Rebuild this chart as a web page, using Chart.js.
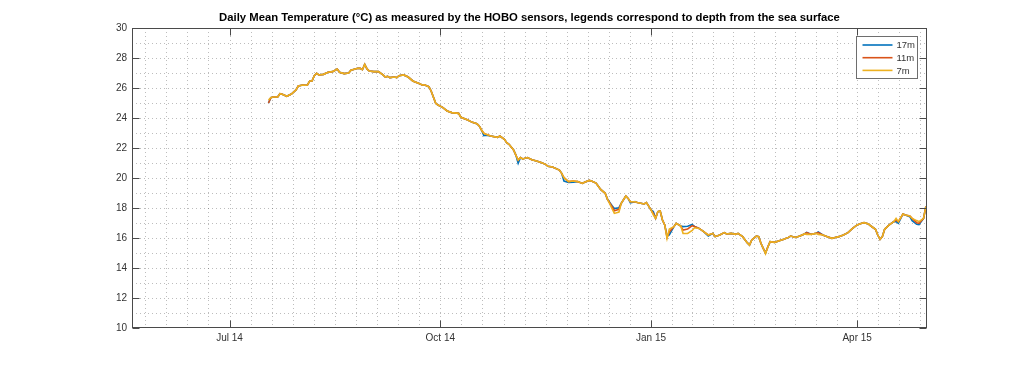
<!DOCTYPE html>
<html>
<head>
<meta charset="utf-8">
<script src="https://cdn.jsdelivr.net/npm/chart.js@4.4.1/dist/chart.umd.min.js"></script>
<style>
  html, body { margin: 0; padding: 0; background: #ffffff; }
  #wrap { width: 1024px; height: 368px; }
</style>
</head>
<body>
<div id="wrap"><canvas id="c" width="1024" height="368"></canvas></div>
<script>
// ---- Data (days counted from 1 Jul 2014) ----
const titleText = 'Daily Mean Temperature (\u00B0C) as measured by the HOBO sensors, legends correspond to depth from the sea surface';
const seriesNames = ['17m', '11m', '7m'];
const seriesColors = ['#0072BD', '#D95319', '#EDB120'];
const tickDays = [0, 92, 184, 274];
const tickLabels = ['Jul 14', 'Oct 14', 'Jan 15', 'Apr 15'];
const xMin = -42.6, xMax = 304.5;
const yMin = 10, yMax = 30, yStep = 2;

const days = [17,18,19,21,22,23,25,27,29,30,32,33,34,35,36,37,38,39,41,43,45,47,48,50,52,53,56,57,58,59,60,61,63,65,67,68,69,70,72,73,74,76,78,80,83,84,85,87,88,90,91,93,95,97,100,101,104,106,108,109,110,111,112,114,117,118,120,121,122,124,125,126,127,128,130,132,134,136,138,139,141,144,145,146,148,150,152,154,155,157,158,160,161,162,164,165,167,168,170,171,173,174,175,177,178,181,182,183,184,185,186,187,188,189,190,191,192,194,195,197,198,200,202,203,205,207,209,211,212,214,216,217,219,221,222,224,226,227,228,230,231,232,233,234,235,236,238,240,242,244,245,247,249,251,252,254,256,257,259,261,263,264,266,268,270,272,274,276,277,279,280,282,283,284,285,286,288,290,291,292,294,295,297,298,300,301,303,304];

const t11 = [25.0,25.35,25.4,25.4,25.62,25.58,25.45,25.6,25.87,26.13,26.2,26.18,26.2,26.47,26.47,26.82,26.98,26.87,26.91,27.05,27.09,27.27,27.05,26.96,27.0,27.18,27.31,27.31,27.22,27.58,27.27,27.13,27.09,27.09,26.87,26.73,26.78,26.69,26.73,26.69,26.82,26.87,26.73,26.47,26.29,26.2,26.22,26.09,25.8,24.98,24.87,24.71,24.47,24.36,24.31,24.05,23.87,23.71,23.62,23.47,23.2,22.98,22.91,22.8,22.71,22.8,22.58,22.36,22.25,21.87,21.53,21.2,21.36,21.27,21.36,21.22,21.13,21.04,20.91,20.78,20.73,20.53,20.31,20.02,19.76,19.8,19.76,19.64,19.71,19.84,19.8,19.66,19.45,19.24,18.98,18.58,18.09,17.82,17.91,18.31,18.8,18.64,18.42,18.42,18.36,18.27,18.36,18.13,17.87,17.64,17.31,17.76,17.8,17.2,16.87,16.04,16.4,16.76,16.98,16.8,16.53,16.6,16.82,16.76,16.64,16.42,16.2,16.31,16.09,16.2,16.36,16.27,16.31,16.24,16.31,16.09,15.69,15.53,15.87,16.13,16.09,15.65,15.31,15.0,15.4,15.76,15.71,15.82,15.91,16.04,16.13,16.04,16.13,16.27,16.36,16.24,16.31,16.36,16.2,16.09,15.98,16.02,16.09,16.2,16.36,16.64,16.87,16.98,17.02,16.93,16.8,16.58,16.2,15.91,16.09,16.58,16.87,17.09,17.2,17.09,17.6,17.53,17.47,17.31,17.02,16.98,17.31,18.09];

const t17 = [25.0,25.35,25.4,25.4,25.62,25.58,25.45,25.6,25.87,26.13,26.2,26.18,26.2,26.47,26.47,26.82,26.98,26.87,26.91,27.05,27.09,27.27,27.05,26.96,27.0,27.18,27.31,27.31,27.22,27.58,27.27,27.13,27.09,27.09,26.87,26.73,26.78,26.69,26.73,26.69,26.82,26.87,26.73,26.47,26.29,26.2,26.22,26.09,25.8,24.98,24.87,24.71,24.47,24.36,24.31,24.05,23.87,23.71,23.62,23.47,23.2,22.82,22.85,22.8,22.71,22.8,22.58,22.36,22.25,21.87,21.53,20.98,21.36,21.27,21.36,21.22,21.13,21.04,20.91,20.78,20.73,20.53,20.31,19.8,19.7,19.72,19.76,19.64,19.71,19.84,19.8,19.66,19.45,19.24,18.98,18.58,18.15,17.96,18.02,18.31,18.8,18.64,18.35,18.42,18.36,18.27,18.36,18.13,17.87,17.76,17.31,17.76,17.8,17.2,16.87,16.13,16.2,16.76,16.98,16.8,16.76,16.78,16.9,16.76,16.64,16.42,16.13,16.31,16.09,16.2,16.36,16.27,16.31,16.24,16.31,16.09,15.69,15.53,15.87,16.13,16.09,15.65,15.31,15.0,15.4,15.76,15.71,15.82,15.91,16.04,16.13,16.04,16.13,16.27,16.38,16.24,16.31,16.4,16.2,16.09,15.98,16.02,16.09,16.2,16.36,16.64,16.87,16.98,17.02,16.93,16.8,16.58,16.2,15.91,16.09,16.58,16.87,17.09,17.09,16.98,17.6,17.53,17.42,17.16,16.91,16.89,17.31,18.09];

const t7 = [25.2,25.35,25.4,25.4,25.62,25.58,25.45,25.6,25.87,26.13,26.2,26.18,26.2,26.47,26.47,26.82,26.98,26.87,26.91,27.05,27.09,27.27,27.05,26.96,27.0,27.18,27.31,27.31,27.22,27.58,27.27,27.13,27.09,27.09,26.87,26.73,26.78,26.69,26.73,26.69,26.82,26.87,26.73,26.47,26.29,26.2,26.22,26.09,25.8,24.98,24.87,24.71,24.47,24.36,24.31,24.05,23.87,23.71,23.62,23.47,23.2,22.98,22.91,22.8,22.71,22.8,22.58,22.36,22.25,21.87,21.53,21.2,21.36,21.27,21.36,21.22,21.13,21.04,20.91,20.78,20.73,20.53,20.31,20.02,19.76,19.8,19.76,19.64,19.71,19.84,19.8,19.66,19.45,19.24,18.98,18.58,17.95,17.64,17.73,18.31,18.8,18.64,18.42,18.42,18.36,18.27,18.36,18.13,17.87,17.55,17.31,17.76,17.8,17.2,16.87,15.98,16.6,16.76,16.98,16.8,16.31,16.3,16.5,16.68,16.64,16.42,16.2,16.31,16.09,16.2,16.36,16.27,16.31,16.24,16.31,16.09,15.69,15.53,15.87,16.13,16.09,15.65,15.31,14.95,15.4,15.76,15.71,15.82,15.91,16.04,16.13,16.04,16.13,16.27,16.24,16.24,16.31,16.24,16.2,16.09,15.98,16.02,16.09,16.2,16.36,16.64,16.87,16.98,17.02,16.93,16.8,16.58,16.2,15.91,16.09,16.58,16.87,17.09,17.31,17.09,17.6,17.53,17.47,17.31,17.16,17.09,17.31,18.09];

const seriesValues = [t17, t11, t7];

// ---- Plugin: MATLAB-like grid, box, ticks, legend, title ----
const AXIS_COLOR = '#4a4a4a';
const LABEL_COLOR = '#333333';
const matlabAxes = {
  id: 'matlabAxes',
  beforeDatasetsDraw(chart) {
    const { ctx, chartArea: a, scales: { x, y } } = chart;
    ctx.save();
    ctx.beginPath();
    ctx.rect(a.left, a.top, a.right - a.left, a.bottom - a.top);
    ctx.clip();
    ctx.strokeStyle = 'rgba(38,38,38,0.3)';
    ctx.lineWidth = 1;
    ctx.setLineDash([1, 3]);
    const vx = [];
    for (let k = 0; k < tickDays.length - 1; k++) {
      const s = (tickDays[k + 1] - tickDays[k]) / 10;
      for (let j = 0; j < 10; j++) vx.push(tickDays[k] + j * s);
    }
    const s0 = (tickDays[1] - tickDays[0]) / 10;
    for (let v = tickDays[0] - s0; v > xMin; v -= s0) vx.push(v);
    for (let v = tickDays[tickDays.length - 1]; v < xMax; v += s0) vx.push(v);
    vx.forEach(v => {
      const px = Math.round(x.getPixelForValue(v)) + 0.5;
      ctx.beginPath(); ctx.moveTo(px, a.top); ctx.lineTo(px, a.bottom); ctx.stroke();
    });
    for (let v = yMin + 1; v < yMax; v += 1) {
      const py = Math.round(y.getPixelForValue(v)) + 0.5;
      ctx.beginPath(); ctx.moveTo(a.left, py); ctx.lineTo(a.right, py); ctx.stroke();
    }
    ctx.restore();
  },
  afterDatasetsDraw(chart) {
    const { ctx, chartArea: a, scales: { x, y } } = chart;
    ctx.save();
    const L = Math.round(a.left) + 0.5, R = Math.round(a.right) - 0.5;
    const T = Math.round(a.top) + 0.5, B = Math.round(a.bottom) - 0.5;
    ctx.strokeStyle = AXIS_COLOR;
    ctx.lineWidth = 1;
    ctx.strokeRect(L, T, R - L, B - T);
    const tl = 7;
    ctx.beginPath();
    tickDays.forEach(v => {
      const px = Math.round(x.getPixelForValue(v)) + 0.5;
      ctx.moveTo(px, B); ctx.lineTo(px, B - tl);
      ctx.moveTo(px, T); ctx.lineTo(px, T + tl);
    });
    for (let v = yMin; v <= yMax; v += yStep) {
      const py = Math.round(y.getPixelForValue(v)) + 0.5;
      ctx.moveTo(L, py); ctx.lineTo(L + tl, py);
      ctx.moveTo(R, py); ctx.lineTo(R - tl, py);
    }
    ctx.stroke();

    // legend
    const lx = Math.round(a.right) - 70.5, ly = Math.round(a.top) + 8.5;
    const lw = 61, lh = 42;
    ctx.fillStyle = '#ffffff';
    ctx.fillRect(lx, ly, lw, lh);
    ctx.strokeStyle = '#6e6e6e';
    ctx.strokeRect(lx, ly, lw, lh);
    ctx.font = '9.5px "Liberation Sans", Arial, sans-serif';
    ctx.textBaseline = 'middle';
    ctx.textAlign = 'left';
    seriesNames.forEach((n, i) => {
      const ry = ly + 8.5 + i * 12.7;
      ctx.strokeStyle = seriesColors[i];
      ctx.lineWidth = 1.6;
      ctx.beginPath(); ctx.moveTo(lx + 6, ry); ctx.lineTo(lx + 36, ry); ctx.stroke();
      ctx.fillStyle = LABEL_COLOR;
      ctx.fillText(n, lx + 40, ry + 0.5);
    });

    // title
    ctx.fillStyle = '#000000';
    ctx.font = 'bold 11.3px "Liberation Sans", Arial, sans-serif';
    ctx.textAlign = 'center';
    ctx.textBaseline = 'middle';
    ctx.fillText(titleText, (a.left + a.right) / 2, 18);
    ctx.restore();
  }
};

const datasets = seriesNames.map((n, i) => ({
  label: n,
  data: days.map((d, k) => ({ x: d, y: seriesValues[i][k] })),
  borderColor: seriesColors[i],
  backgroundColor: seriesColors[i],
  borderWidth: 1.6,
  pointRadius: 0,
  tension: 0,
  fill: false,
  order: seriesNames.length - i
}));

new Chart(document.getElementById('c'), {
  type: 'line',
  data: { datasets },
  options: {
    responsive: false,
    animation: false,
    devicePixelRatio: 1,
    layout: { padding: { left: 0, right: 97, top: 28, bottom: 0 } },
    plugins: { legend: { display: false }, title: { display: false }, tooltip: { enabled: false } },
    scales: {
      x: {
        type: 'linear',
        min: xMin, max: xMax,
        grid: { display: false, drawTicks: false },
        border: { display: false },
        afterBuildTicks: (s) => { s.ticks = tickDays.map(v => ({ value: v })); },
        afterFit: (s) => { s.height = 40; },
        ticks: {
          autoSkip: false, maxRotation: 0, padding: 4,
          color: LABEL_COLOR,
          font: { family: '"Liberation Sans", Arial, sans-serif', size: 10 },
          callback: (v, i) => tickLabels[i]
        }
      },
      y: {
        type: 'linear',
        min: yMin, max: yMax,
        grid: { display: false, drawTicks: false },
        border: { display: false },
        afterFit: (s) => { s.width = 132; },
        ticks: {
          stepSize: yStep, padding: 5,
          color: LABEL_COLOR,
          font: { family: '"Liberation Sans", Arial, sans-serif', size: 10 }
        }
      }
    }
  },
  plugins: [matlabAxes]
});
</script>
</body>
</html>
